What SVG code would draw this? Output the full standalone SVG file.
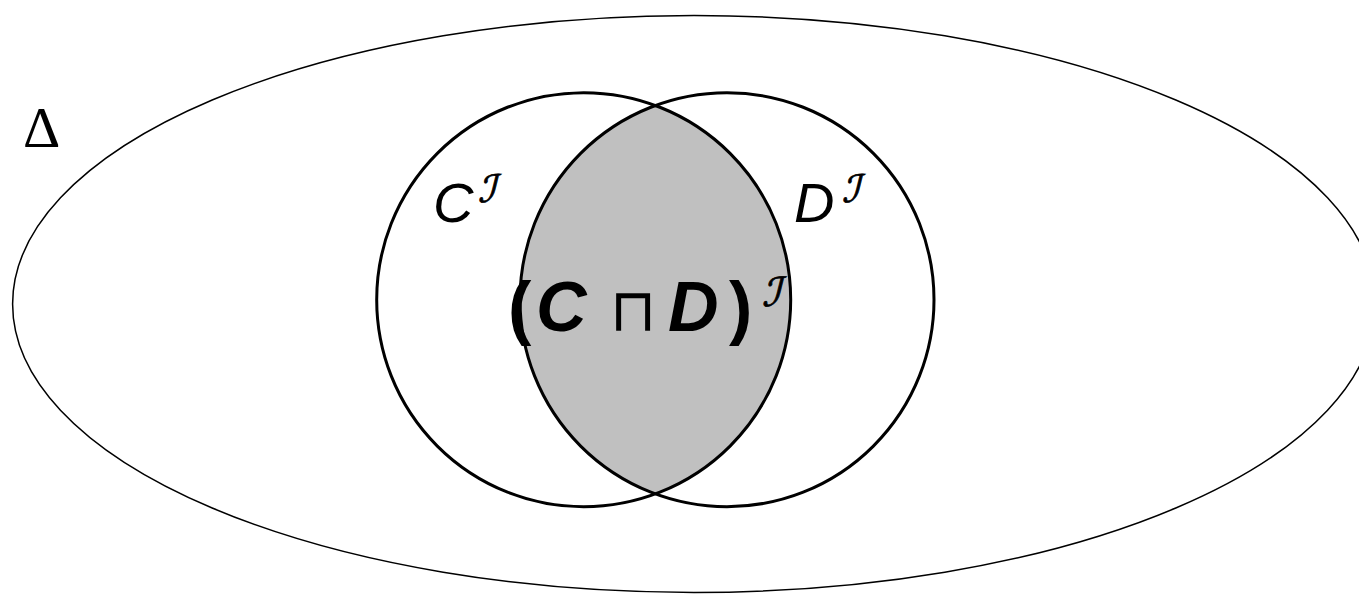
<svg xmlns="http://www.w3.org/2000/svg" width="1359" height="604" viewBox="0 0 1359 604">
<style>
.lbl{font-family:"Liberation Sans",Arial,sans-serif;fill:#000}
.scr{font-family:"DejaVu Sans",sans-serif;fill:#000;stroke:#000;stroke-width:0.8}
.circ{fill:none;stroke:#000;stroke-width:3}
</style>
<defs>
<clipPath id="clipL"><circle cx="583.7" cy="299.7" r="207"/></clipPath>
</defs>
<rect width="1359" height="604" fill="#fff"/>
<g id="domain">
<ellipse cx="694" cy="304" rx="681.4" ry="288.5" fill="none" stroke="#000" stroke-width="1.5"/>
<text x="23" y="147" font-family="'Liberation Serif',serif" font-size="58" fill="#000">Δ</text>
</g>
<g id="intersection">
<circle cx="727" cy="299.7" r="207" fill="#c0c0c0" clip-path="url(#clipL)"/>
</g>
<g id="C">
<circle class="circ" cx="583.7" cy="299.7" r="207"/>
<text class="lbl" x="433" y="222" font-size="56" font-style="italic">C</text>
<g transform="translate(478,202) skewX(-14)"><text class="scr" x="0" y="0" font-size="38">ℐ</text></g>
</g>
<g id="D">
<circle class="circ" cx="727" cy="299.7" r="207"/>
<text class="lbl" x="794" y="222" font-size="56" font-style="italic">D</text>
<g transform="translate(842,202) skewX(-14)"><text class="scr" x="0" y="0" font-size="38">ℐ</text></g>
</g>
<g id="label">
<text class="lbl" y="331" font-size="70" font-weight="bold"><tspan x="508">(</tspan><tspan x="536" font-style="italic">C</tspan><tspan x="610" font-weight="normal" font-family="'DejaVu Sans',sans-serif" font-size="60">⊓</tspan><tspan x="668" font-style="italic">D</tspan><tspan x="729">)</tspan></text>
<g transform="translate(762,306) skewX(-14)"><text class="scr" x="0" y="0" font-size="40">ℐ</text></g>
</g>
</svg>
